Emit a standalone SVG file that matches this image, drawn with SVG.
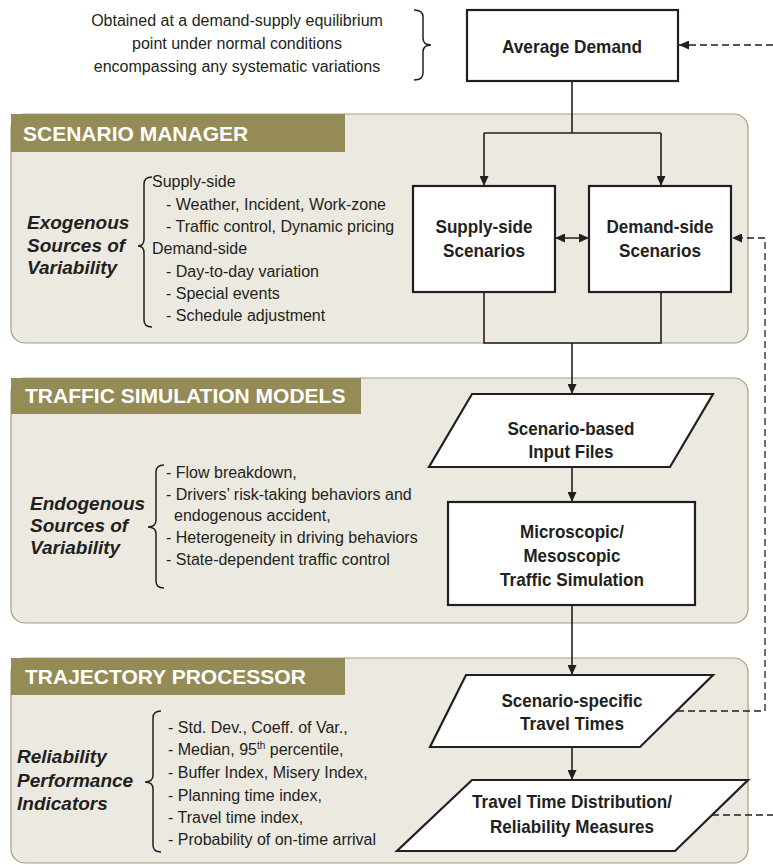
<svg xmlns="http://www.w3.org/2000/svg" width="773" height="865" viewBox="0 0 773 865">
  <defs>
    <marker id="arrow" viewBox="0 0 10 9" refX="10" refY="4.5" markerWidth="10" markerHeight="9" markerUnits="userSpaceOnUse" orient="auto-start-reverse">
      <path d="M0,0 L10,4.5 L0,9 z" fill="#231f20"/>
    </marker>
    <style>
      .panel { fill: #ece9e0; stroke: #a99f76; stroke-width: 1.2; }
      .banner { fill: #958b57; }
      .banner-text { font-family: "Liberation Sans", Arial, sans-serif; font-weight: bold; font-size: 21px; fill: #ffffff; }
      .box { fill: #ffffff; stroke: #231f20; stroke-width: 2.2; }
      .box-text { font-family: "Liberation Sans", Arial, sans-serif; font-weight: bold; font-size: 19px; fill: #231f20; text-anchor: middle; }
      .label { font-family: "Liberation Sans", Arial, sans-serif; font-weight: bold; font-style: italic; font-size: 19px; fill: #231f20; }
      .list { font-family: "Liberation Sans", Arial, sans-serif; font-size: 16px; fill: #231f20; }
      .note { font-family: "Liberation Sans", Arial, sans-serif; font-size: 16px; fill: #231f20; text-anchor: middle; }
      .brace { fill: none; stroke: #231f20; stroke-width: 1.5; }
      .link { fill: none; stroke: #231f20; stroke-width: 1.6; }
      .dash { fill: none; stroke: #231f20; stroke-width: 1.3; stroke-dasharray: 7 4; }
    </style>
  </defs>

  <!-- background panels -->
  <g id="scenario-manager">
    <rect class="panel" x="11" y="114" width="737" height="229" rx="14"/>
    <rect class="banner" x="11" y="114" width="334" height="38"/>
    <text class="banner-text" x="23" y="141">SCENARIO MANAGER</text>
  </g>
  <g id="traffic-simulation-models">
    <rect class="panel" x="11" y="378" width="737" height="245" rx="14"/>
    <rect class="banner" x="11" y="378" width="350" height="36"/>
    <text class="banner-text" x="25" y="403">TRAFFIC SIMULATION MODELS</text>
  </g>
  <g id="trajectory-processor">
    <rect class="panel" x="11" y="658" width="737" height="205" rx="14"/>
    <rect class="banner" x="11" y="658" width="334" height="37"/>
    <text class="banner-text" x="25" y="684">TRAJECTORY PROCESSOR</text>
  </g>

  <!-- annotation: average demand -->
  <g id="demand-note">
    <text class="note" x="237" y="26">Obtained at a demand-supply equilibrium</text>
    <text class="note" x="237" y="49">point under normal conditions</text>
    <text class="note" x="237" y="72">encompassing any systematic variations</text>
    <path class="brace" d="M414,10 Q423,10 423,17 L423,38 Q423,45 431,45 Q423,45 423,52 L423,73 Q423,80 414,80"/>
  </g>

  <!-- annotation: exogenous sources -->
  <g id="exogenous-sources">
    <text class="label" x="27" y="229">Exogenous</text>
    <text class="label" x="27" y="252">Sources of</text>
    <text class="label" x="27" y="274">Variability</text>
    <path class="brace" d="M152,177 Q144,177 144,184 L144,239 Q144,246 138,246 Q144,246 144,253 L144,320 Q144,327 152,327"/>
    <text class="list" x="152" y="187">Supply-side</text>
    <text class="list" x="166" y="210">- Weather, Incident, Work-zone</text>
    <text class="list" x="166" y="232">- Traffic control, Dynamic pricing</text>
    <text class="list" x="152" y="254">Demand-side</text>
    <text class="list" x="166" y="277">- Day-to-day variation</text>
    <text class="list" x="166" y="299">- Special events</text>
    <text class="list" x="166" y="321">- Schedule adjustment</text>
  </g>

  <!-- annotation: endogenous sources -->
  <g id="endogenous-sources">
    <text class="label" x="30" y="510">Endogenous</text>
    <text class="label" x="30" y="532">Sources of</text>
    <text class="label" x="30" y="554">Variability</text>
    <path class="brace" d="M164,465 Q156,465 156,472 L156,520 Q156,527 148,527 Q156,527 156,534 L156,581 Q156,588 164,588"/>
    <text class="list" x="166" y="478">- Flow breakdown,</text>
    <text class="list" x="166" y="500">- Drivers’ risk-taking behaviors and</text>
    <text class="list" x="174" y="521">endogenous accident,</text>
    <text class="list" x="166" y="543">- Heterogeneity in driving behaviors</text>
    <text class="list" x="166" y="565">- State-dependent traffic control</text>
  </g>

  <!-- annotation: reliability indicators -->
  <g id="reliability-indicators">
    <text class="label" x="17" y="763">Reliability</text>
    <text class="label" x="17" y="787">Performance</text>
    <text class="label" x="17" y="810">Indicators</text>
    <path class="brace" d="M161,711 Q153,711 153,718 L153,775 Q153,782 145,782 Q153,782 153,789 L153,845 Q153,852 161,852"/>
    <text class="list" x="168" y="733">- Std. Dev., Coeff. of Var.,</text>
    <text class="list" x="168" y="755">- Median, 95<tspan font-size="10" dy="-6">th</tspan><tspan dy="6"> percentile,</tspan></text>
    <text class="list" x="168" y="778">- Buffer Index, Misery Index,</text>
    <text class="list" x="168" y="801">- Planning time index,</text>
    <text class="list" x="168" y="823">- Travel time index,</text>
    <text class="list" x="168" y="845">- Probability of on-time arrival</text>
  </g>

  <!-- connectors -->
  <g id="connectors">
    <path class="link" d="M572,81 L572,133 M484,133 L661,133"/>
    <path class="link" d="M484,133 L484,186" marker-end="url(#arrow)"/>
    <path class="link" d="M661,133 L661,186" marker-end="url(#arrow)"/>
    <path class="link" d="M555,238 L589,238" marker-start="url(#arrow)" marker-end="url(#arrow)"/>
    <path class="link" d="M484,292 L484,343 L661,343 L661,292"/>
    <path class="link" d="M572,343 L572,394" marker-end="url(#arrow)"/>
    <path class="link" d="M572,467 L572,502" marker-end="url(#arrow)"/>
    <path class="link" d="M572,605 L572,675" marker-end="url(#arrow)"/>
    <path class="link" d="M572,747 L572,780" marker-end="url(#arrow)"/>
    <path class="dash" d="M773,45 L679,45" marker-end="url(#arrow)"/>
    <path class="dash" d="M677,711 L765,711 L765,238 L732,238" marker-end="url(#arrow)"/>
    <path class="dash" d="M712,815 L773,815"/>
  </g>

  <!-- process nodes -->
  <g id="average-demand">
    <rect class="box" x="467" y="10" width="211" height="71"/>
    <text class="box-text" x="572" y="53" textLength="140" lengthAdjust="spacingAndGlyphs">Average Demand</text>
  </g>
  <g id="supply-side-scenarios">
    <rect class="box" x="413" y="186" width="142" height="106"/>
    <text class="box-text" x="484" y="233" textLength="97" lengthAdjust="spacingAndGlyphs">Supply-side</text>
    <text class="box-text" x="484" y="257" textLength="82" lengthAdjust="spacingAndGlyphs">Scenarios</text>
  </g>
  <g id="demand-side-scenarios">
    <rect class="box" x="589" y="186" width="142" height="106"/>
    <text class="box-text" x="660" y="233" textLength="107" lengthAdjust="spacingAndGlyphs">Demand-side</text>
    <text class="box-text" x="660" y="257" textLength="82" lengthAdjust="spacingAndGlyphs">Scenarios</text>
  </g>
  <g id="scenario-based-input-files">
    <path class="box" d="M472,394 L713,394 L670,467 L429,467 Z"/>
    <text class="box-text" x="571" y="435" textLength="127" lengthAdjust="spacingAndGlyphs">Scenario-based</text>
    <text class="box-text" x="571" y="458" textLength="85" lengthAdjust="spacingAndGlyphs">Input Files</text>
  </g>
  <g id="traffic-simulation">
    <rect class="box" x="448" y="502" width="247" height="103"/>
    <text class="box-text" x="572" y="538" textLength="104" lengthAdjust="spacingAndGlyphs">Microscopic/</text>
    <text class="box-text" x="572" y="562" textLength="97" lengthAdjust="spacingAndGlyphs">Mesoscopic</text>
    <text class="box-text" x="572" y="586" textLength="144" lengthAdjust="spacingAndGlyphs">Traffic Simulation</text>
  </g>
  <g id="scenario-specific-travel-times">
    <path class="box" d="M466,675 L713,675 L640,747 L430,747 Z"/>
    <text class="box-text" x="572" y="707" textLength="141" lengthAdjust="spacingAndGlyphs">Scenario-specific</text>
    <text class="box-text" x="572" y="730" textLength="104" lengthAdjust="spacingAndGlyphs">Travel Times</text>
  </g>
  <g id="travel-time-distribution">
    <path class="box" d="M472,780 L748,780 L675,851 L397,851 Z"/>
    <text class="box-text" x="572" y="808" textLength="200" lengthAdjust="spacingAndGlyphs">Travel Time Distribution/</text>
    <text class="box-text" x="572" y="833" textLength="164" lengthAdjust="spacingAndGlyphs">Reliability Measures</text>
  </g>
</svg>
